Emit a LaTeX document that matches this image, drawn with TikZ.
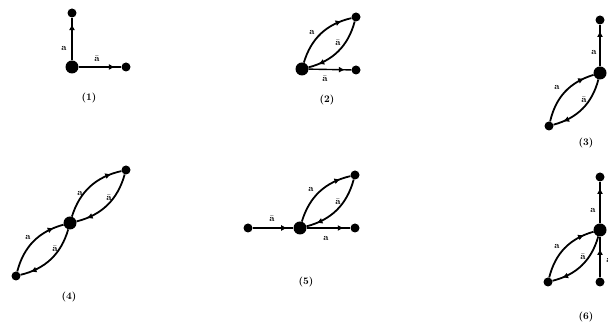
\documentclass[tikz,border=0pt]{standalone}
\usepackage{tikz}
\usetikzlibrary{arrows.meta,decorations.markings}

\begin{document}
\begin{tikzpicture}[x=1pt, y=1pt,
    big/.style={circle, fill=black, inner sep=0pt, minimum size=13pt},
    small/.style={circle, fill=black, inner sep=0pt, minimum size=9pt},
    edge/.style={line width=1.4pt},
    lobe/.style={line width=1.8pt, bend left=30},
    arr/.style={postaction={decorate, decoration={markings,
        mark=at position #1 with {\arrow{Latex[length=6pt,width=6pt]}}}}},
    arr/.default=0.85,
    lbl/.style={font=\bfseries\small, inner sep=1pt},
    num/.style={font=\bfseries}]
  \useasboundingbox (0,0) rectangle (608,331);
  % (1)
  \node[big] (c1) at (72,264) {};
  \node[small] (t1) at (72,318) {};
  \node[small] (r1) at (126,264) {};
  \draw[edge, arr] (c1) -- (t1);
  \draw[edge, arr] (c1) -- (r1);
  \node[lbl] (a1) at (64,283) {a};
  \node[lbl] (b1) at (97,272) {$\bar{\mathbf{a}}$};
  \node[num] (n1) at (89,233) {(1)};
  % (2)
  \node[big] (c2) at (302,262) {};
  \node[small] (t2) at (356,314) {};
  \node[small] (r2) at (356,261) {};
  \draw[lobe, arr] (c2) to (t2);
  \draw[lobe, arr] (t2) to (c2);
  \draw[edge, arr] (c2) -- (r2);
  \node[lbl] (a2) at (312,299) {a};
  \node[lbl] (b2) at (338,288) {$\bar{\mathbf{a}}$};
  \node[lbl] (d2) at (325,252) {$\bar{\mathbf{a}}$};
  \node[num] (n2) at (327,231) {(2)};
  % (3)
  \node[big] (c3) at (600,258) {};
  \node[small] (t3) at (600,311) {};
  \node[small] (l3) at (549,205) {};
  \draw[edge, arr] (c3) -- (t3);
  \draw[lobe, arr] (l3) to (c3);
  \draw[lobe, arr] (c3) to (l3);
  \node[lbl] (a3) at (594,279) {a};
  \node[lbl] (b3) at (557,244) {a};
  \node[lbl] (d3) at (584,231) {$\bar{\mathbf{a}}$};
  \node[num] (n3) at (586,188) {(3)};
  % (4)
  \node[big] (c4) at (70,108) {};
  \node[small] (t4) at (126,161) {};
  \node[small] (l4) at (16,55) {};
  \draw[lobe, arr] (c4) to (t4);
  \draw[lobe, arr] (t4) to (c4);
  \draw[lobe, arr] (l4) to (c4);
  \draw[lobe, arr] (c4) to (l4);
  \node[lbl] (a4) at (80,138) {a};
  \node[lbl] (b4) at (109,133) {$\bar{\mathbf{a}}$};
  \node[lbl] (e4) at (28,94) {a};
  \node[lbl] (d4) at (55,82) {$\bar{\mathbf{a}}$};
  \node[num] (n4) at (69,34) {(4)};
  % (5)
  \node[big] (c5) at (300,103) {};
  \node[small] (l5) at (248,103) {};
  \node[small] (r5) at (355,103) {};
  \node[small] (t5) at (355,156) {};
  \draw[edge, arr] (l5) -- (c5);
  \draw[edge, arr] (c5) -- (r5);
  \draw[lobe, arr] (c5) to (t5);
  \draw[lobe, arr] (t5) to (c5);
  \node[lbl] (d5) at (272,112) {$\bar{\mathbf{a}}$};
  \node[lbl] (a5) at (311,142) {a};
  \node[lbl] (b5) at (338,129) {$\bar{\mathbf{a}}$};
  \node[lbl] (e5) at (326,93) {a};
  \node[num] (n5) at (306,49) {(5)};
  % (6)
  \node[big] (c6) at (600,101) {};
  \node[small] (t6) at (600,154) {};
  \node[small] (l6) at (548,49) {};
  \node[small] (u6) at (600,49) {};
  \draw[edge, arr] (c6) -- (t6);
  \draw[edge, arr=0.7] (u6) -- (c6);
  \draw[lobe, arr] (l6) to (c6);
  \draw[lobe, arr] (c6) to (l6);
  \node[lbl] (a6) at (593,121) {a};
  \node[lbl] (b6) at (557,85) {a};
  \node[lbl] (d6) at (583,74) {$\bar{\mathbf{a}}$};
  \node[lbl] (e6) at (609,71) {a};
  \node[num] (n6) at (586,14) {(6)};
\end{tikzpicture}
\end{document}
